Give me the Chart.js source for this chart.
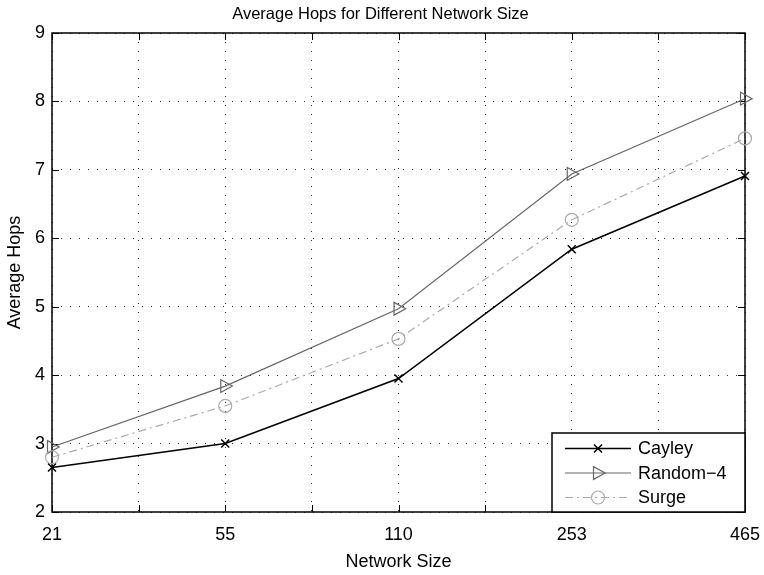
<!DOCTYPE html>
<html><head><meta charset="utf-8">
<script src="https://cdn.jsdelivr.net/npm/chart.js@4/dist/chart.umd.min.js"></script>
<style>html,body{margin:0;padding:0;background:#fff}#wrap{width:764px;height:575px}</style>
</head><body><div id="wrap"><canvas id="c" width="764" height="575"></canvas></div>
<script>
const networkSizes = ['21', '55', '110', '253', '465'];
const cayley  = [2.65, 3.00, 3.95, 5.84, 6.91];
const random4 = [2.95, 3.84, 4.97, 6.94, 8.04];
const surge   = [2.80, 3.55, 4.53, 6.27, 7.46];
const seriesNames = ['Cayley', 'Random\u22124', 'Surge'];
const chartTitle = 'Average Hops for Different Network Size';
const yMin = 2, yMax = 9;

const FONT = '"Liberation Sans", Arial, Helvetica, sans-serif';
const toPts = arr => arr.map((v, i) => ({x: i, y: v}));

function drawMarker(ctx, style, x, y, r, color, lw) {
  ctx.save();
  ctx.strokeStyle = color; ctx.lineWidth = lw; ctx.setLineDash([]);
  ctx.beginPath();
  if (style === 'crossRot') {
    ctx.moveTo(x - r, y - r); ctx.lineTo(x + r, y + r);
    ctx.moveTo(x - r, y + r); ctx.lineTo(x + r, y - r);
  } else if (style === 'triangleRight') {
    ctx.moveTo(x - r * 0.6, y - r * 0.85);
    ctx.lineTo(x + r * 0.95, y);
    ctx.lineTo(x - r * 0.6, y + r * 0.85);
    ctx.closePath();
  } else {
    ctx.arc(x, y, r, 0, Math.PI * 2);
  }
  ctx.stroke();
  ctx.restore();
}

const markerInfo = [
  {style: 'crossRot', r: 4, lw: 1.5},
  {style: 'triangleRight', r: 7.5, lw: 1.2},
  {style: 'circle', r: 6.5, lw: 1.2}
];

const decor = {
  id: 'decor',
  beforeDatasetsDraw(chart) {
    const {ctx, chartArea: a, scales: {x, y}} = chart;
    ctx.save();
    ctx.strokeStyle = '#000'; ctx.lineWidth = 1;
    ctx.beginPath();
    x.ticks.forEach(t => {
      const px = Math.round(x.getPixelForValue(t.value)) + 0.5;
      ctx.moveTo(px, a.bottom); ctx.lineTo(px, a.bottom - 7);
      ctx.moveTo(px, a.top); ctx.lineTo(px, a.top + 7);
    });
    y.ticks.forEach(t => {
      const py = Math.round(y.getPixelForValue(t.value)) + 0.5;
      ctx.moveTo(a.left, py); ctx.lineTo(a.left + 7, py);
      ctx.moveTo(a.right, py); ctx.lineTo(a.right - 7, py);
    });
    ctx.stroke();
    ctx.lineWidth = 1.5;
    ctx.strokeRect(a.left, a.top, a.right - a.left, a.bottom - a.top);
    ctx.restore();
  },
  afterDatasetsDraw(chart) {
    const {ctx} = chart;
    chart.data.datasets.forEach((ds, di) => {
      const meta = chart.getDatasetMeta(di);
      const m = markerInfo[di];
      meta.data.forEach(p => drawMarker(ctx, m.style, p.x, p.y, m.r, ds.borderColor, m.lw));
    });
  },
  afterDraw(chart) {
    const {ctx, chartArea: a} = chart;
    ctx.save();
    // title
    ctx.fillStyle = '#000';
    ctx.font = '16.5px ' + FONT;
    ctx.textAlign = 'center';
    ctx.textBaseline = 'middle';
    ctx.fillText(chartTitle, (a.left + a.right) / 2 - 18, 14);
    // legend
    const w = 193, h = 79;
    const L = a.right - w, T = a.bottom - h;
    ctx.fillStyle = '#fff';
    ctx.fillRect(L, T, w, h);
    ctx.strokeStyle = '#000'; ctx.lineWidth = 1.5; ctx.setLineDash([]);
    ctx.strokeRect(L, T, w, h);
    chart.data.datasets.forEach((ds, i) => {
      const yy = T + 15.5 + i * 24.5;
      ctx.save();
      ctx.strokeStyle = ds.borderColor; ctx.lineWidth = ds.borderWidth;
      ctx.setLineDash(ds.borderDash || []);
      ctx.beginPath(); ctx.moveTo(L + 13, yy); ctx.lineTo(L + 79, yy); ctx.stroke();
      ctx.restore();
      const m = markerInfo[i];
      drawMarker(ctx, m.style, L + 46, yy, m.r, ds.borderColor, m.lw);
      ctx.fillStyle = '#000';
      ctx.font = '18px ' + FONT;
      ctx.textBaseline = 'middle';
      ctx.textAlign = 'left';
      ctx.fillText(ds.label, L + 86, yy + 1);
    });
    ctx.restore();
  }
};

new Chart(document.getElementById('c'), {
  type: 'line',
  data: {
    datasets: [
      {label: seriesNames[0], data: toPts(cayley), borderColor: '#000', borderWidth: 1.5, pointRadius: 0, tension: 0, clip: false},
      {label: seriesNames[1], data: toPts(random4), borderColor: '#666', borderWidth: 1.2, pointRadius: 0, tension: 0, clip: false},
      {label: seriesNames[2], data: toPts(surge), borderColor: '#aaa', borderWidth: 1.2, borderDash: [8, 4, 2, 4], pointRadius: 0, tension: 0, clip: false}
    ]
  },
  options: {
    responsive: false,
    animation: false,
    events: [],
    layout: {padding: {left: 0, right: 19, top: 33, bottom: 0}},
    plugins: {
      legend: {display: false},
      tooltip: {enabled: false},
      title: {display: false}
    },
    scales: {
      x: {
        type: 'linear', min: 0, max: networkSizes.length - 1,
        afterFit(s) { s.height = 63; s.paddingLeft = 0; s.paddingRight = 0; },
        ticks: {
          stepSize: 0.5, autoSkip: false, maxRotation: 0, color: '#000', padding: 12,
          font: {family: FONT, size: 18},
          callback: v => Number.isInteger(v) ? networkSizes[v] : ''
        },
        grid: {color: '#333', lineWidth: 1, drawTicks: false},
        border: {display: false, dash: [1, 8]},
        title: {display: true, text: 'Network Size', color: '#000', font: {family: FONT, size: 18}, padding: {top: 2, bottom: 2}}
      },
      y: {
        min: yMin, max: yMax,
        afterFit(s) { s.width = 52; s.paddingTop = 0; s.paddingBottom = 0; },
        ticks: {stepSize: 1, color: '#000', padding: 7, font: {family: FONT, size: 18}},
        grid: {color: '#333', lineWidth: 1, drawTicks: false},
        border: {display: false, dash: [1, 8]},
        title: {display: true, text: 'Average Hops', color: '#000', font: {family: FONT, size: 18}, padding: {top: 4, bottom: 0}}
      }
    }
  },
  plugins: [decor]
});
</script>
</body></html>
